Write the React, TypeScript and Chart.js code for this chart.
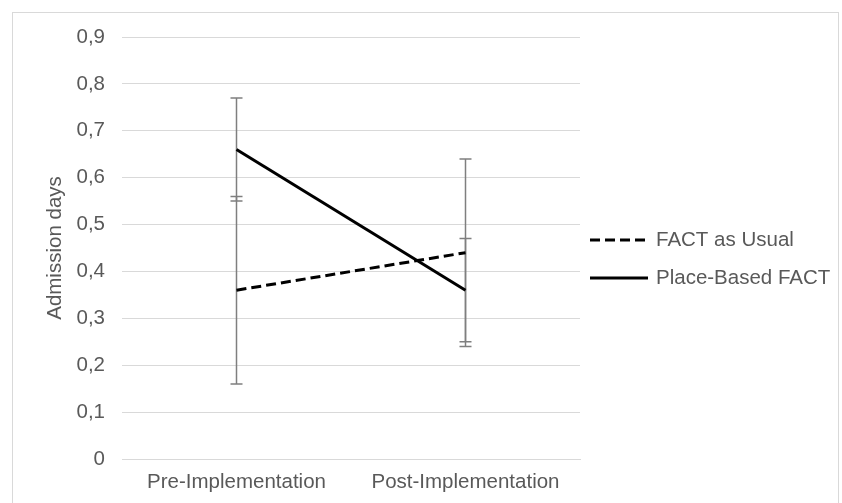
import React, { useEffect, useRef } from "react";
import { Chart, registerables } from "chart.js";

Chart.register(...registerables);

const categories = ["Pre-Implementation", "Post-Implementation"];
const factAsUsual = [0.36, 0.44];
const factAsUsualErr = [0.2, 0.2];
const placeBased = [0.66, 0.36];
const placeBasedErr = [0.11, 0.11];
const seriesNames = ["FACT as Usual", "Place-Based FACT"];
const yTicksMax = 0.9;
const yTitle = "Admission days";

const TEXT = "#595959";
const GRID = "#d9d9d9";
const FONT = "'Liberation Sans', Arial, sans-serif";
const FS = 20.5;

const errorBarPlugin = {
  id: "errorBars",
  beforeDatasetsDraw(chart: any) {
    const ctx = chart.ctx;
    const y = chart.scales.y;
    const errs = [factAsUsualErr, placeBasedErr];
    ctx.save();
    ctx.strokeStyle = "#7f7f7f";
    ctx.lineWidth = 1.5;
    chart.data.datasets.forEach((ds: any, di: number) => {
      const meta = chart.getDatasetMeta(di);
      meta.data.forEach((pt: any, i: number) => {
        const v = ds.data[i];
        const e = errs[di][i];
        const x = pt.x;
        const yt = y.getPixelForValue(v + e);
        const yb = y.getPixelForValue(v - e);
        ctx.beginPath();
        ctx.moveTo(x, yt);
        ctx.lineTo(x, yb);
        ctx.moveTo(x - 6, yt);
        ctx.lineTo(x + 6, yt);
        ctx.moveTo(x - 6, yb);
        ctx.lineTo(x + 6, yb);
        ctx.stroke();
      });
    });
    ctx.restore();
  },
};

const legendPlugin = {
  id: "customLegend",
  afterDraw(chart: any) {
    const ctx = chart.ctx;
    const x0 = 590;
    const x1 = 648;
    const rows = [240, 278];
    ctx.save();
    chart.data.datasets.forEach((ds: any, i: number) => {
      const yy = rows[i];
      ctx.strokeStyle = "#000";
      ctx.lineWidth = 3;
      ctx.setLineDash(ds.borderDash || []);
      ctx.beginPath();
      ctx.moveTo(x0, yy);
      ctx.lineTo(x1, yy);
      ctx.stroke();
      ctx.setLineDash([]);
      ctx.fillStyle = TEXT;
      ctx.font = `${FS}px ${FONT}`;
      ctx.textBaseline = "middle";
      ctx.textAlign = "left";
      ctx.fillText(ds.label, 656, yy);
    });
    ctx.restore();
  },
};

export default function App() {
  const ref = useRef<HTMLCanvasElement | null>(null);
  useEffect(() => {
    if (!ref.current) return;
    const chart = new Chart(ref.current, {
      type: "line",
      data: {
        labels: categories,
        datasets: [
          {
            label: seriesNames[0],
            data: factAsUsual,
            borderColor: "#000",
            borderWidth: 3,
            borderDash: [10, 5],
            pointRadius: 0,
            fill: false,
            tension: 0,
          },
          {
            label: seriesNames[1],
            data: placeBased,
            borderColor: "#000",
            borderWidth: 3,
            pointRadius: 0,
            fill: false,
            tension: 0,
          },
        ],
      },
      options: {
        animation: false,
        responsive: false,
        maintainAspectRatio: false,
        layout: { padding: { left: 40, right: 262, top: 37, bottom: 0 } },
        plugins: {
          legend: { display: false },
          tooltip: { enabled: false },
        },
        scales: {
          x: {
            type: "category",
            offset: true,
            grid: { display: false, drawTicks: false },
            border: { display: true, color: GRID, width: 1 },
            ticks: {
              color: TEXT,
              font: { family: FONT, size: FS },
              padding: 11,
              maxRotation: 0,
            },
            afterFit: (s: any) => {
              s.height = 44;
            },
          },
          y: {
            min: 0,
            max: yTicksMax,
            grid: { color: GRID, lineWidth: 1, drawTicks: false },
            border: { display: false },
            ticks: {
              stepSize: 0.1,
              color: TEXT,
              font: { family: FONT, size: FS },
              padding: 17,
              callback: (v: any) => {
                const n = Number(v);
                return n === 0 ? "0" : n.toFixed(1).replace(".", ",");
              },
            },
            title: {
              display: true,
              text: yTitle,
              color: TEXT,
              font: { family: FONT, size: FS },
              padding: { top: 3, bottom: 0 },
            },
            afterFit: (s: any) => {
              s.width = 82;
            },
          },
        },
      },
      plugins: [errorBarPlugin, legendPlugin],
    });
    return () => chart.destroy();
  }, []);

  return (
    <div style={{ position: "fixed", left: 0, top: 0, width: 842, height: 503, background: "#fff", overflow: "hidden" }}>
      <div
        style={{
          position: "absolute",
          left: 12,
          top: 12,
          width: 827,
          height: 520,
          borderLeft: "1px solid #d9d9d9",
          borderTop: "1px solid #d9d9d9",
          borderRight: "1px solid #d9d9d9",
          boxSizing: "border-box",
        }}
      />
      <canvas ref={ref} width={842} height={503} style={{ position: "absolute", left: 0, top: 0, width: 842, height: 503 }} />
    </div>
  );
}
